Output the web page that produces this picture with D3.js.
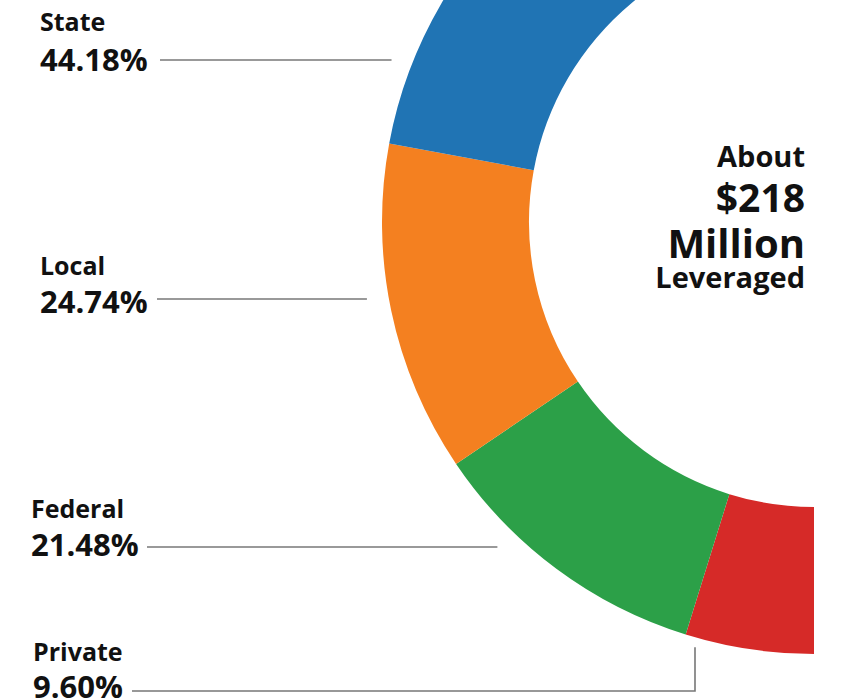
<!DOCTYPE html>
<html><head><meta charset="utf-8">
<script src="https://cdn.jsdelivr.net/npm/d3@7"></script>
<style>
html,body{margin:0;padding:0;background:#fff;}
svg{display:block;font-family:"Open Sans",sans-serif;font-weight:700;}
</style></head>
<body><svg id="c" width="841" height="700"></svg>
<script>
// Data
const categories = ["Private", "Federal", "Local", "State"];
const shares = [9.60, 21.48, 24.74, 44.18];
const colors = ["#d62a28", "#2ca048", "#f48020", "#2074b4"];
const centerLines = ["About", "$218", "Million", "Leveraged"];

// Layout
const cx = 814, cy = 222, rOuter = 432, rInner = 285;
const svg = d3.select("#c");

const pie = d3.pie().sort(null).value(d => d.v).startAngle(Math.PI).endAngle(2 * Math.PI);
const arcs = pie(categories.map((c, i) => ({ c, v: shares[i], col: colors[i] })));
const arc = d3.arc().innerRadius(rInner).outerRadius(rOuter);

const g = svg.append("g").attr("transform", `translate(${cx},${cy})`);
g.selectAll("path").data(arcs).join("path")
  .attr("d", arc).attr("fill", d => d.data.col);

// Center text
const ct = [
  { s: 29, y: 167 }, { s: 39, y: 212 }, { s: 40, y: 258 }, { s: 29, y: 288 }
];
svg.selectAll("text.center").data(centerLines).join("text")
  .attr("class", "center")
  .attr("x", 805).attr("y", (d, i) => ct[i].y)
  .attr("text-anchor", "end").attr("font-size", (d, i) => ct[i].s)
  .attr("fill", "#111").text(d => d);

// Labels
const labelLayout = {
  State:   { x: 40, nameY: 31, pctY: 71, lineY: 60, lineX0: 160, gap: 22 },
  Local:   { x: 40, nameY: 275, pctY: 313, lineY: 299, lineX0: 157, gap: 22 },
  Federal: { x: 31, nameY: 518, pctY: 556, lineY: 547, lineX0: 147, gap: 32 },
  Private: { x: 33, nameY: 661, pctY: 698, lineY: 691, lineX0: 132, vertX: 695, gap: 10 }
};
const fmt = d => d.toFixed(2) + "%";

categories.forEach((c, i) => {
  const L = labelLayout[c];
  svg.append("text").attr("x", L.x).attr("y", L.nameY)
    .attr("font-size", 25).attr("fill", "#111").text(c);
  svg.append("text").attr("x", L.x).attr("y", L.pctY)
    .attr("font-size", 31).attr("fill", "#111").text(fmt(shares[i]));
  let pts;
  if (L.vertX !== undefined) {
    const dy = Math.sqrt(rOuter * rOuter - (L.vertX - cx) ** 2);
    pts = [[L.lineX0, L.lineY], [L.vertX, L.lineY], [L.vertX, cy + dy + L.gap]];
  } else {
    const dx = Math.sqrt(rOuter * rOuter - (L.lineY - cy) ** 2);
    pts = [[L.lineX0, L.lineY], [cx - dx - L.gap, L.lineY]];
  }
  svg.append("path").attr("d", d3.line()(pts))
    .attr("fill", "none").attr("stroke", "#777").attr("stroke-width", 1.6);
});
</script></body></html>
